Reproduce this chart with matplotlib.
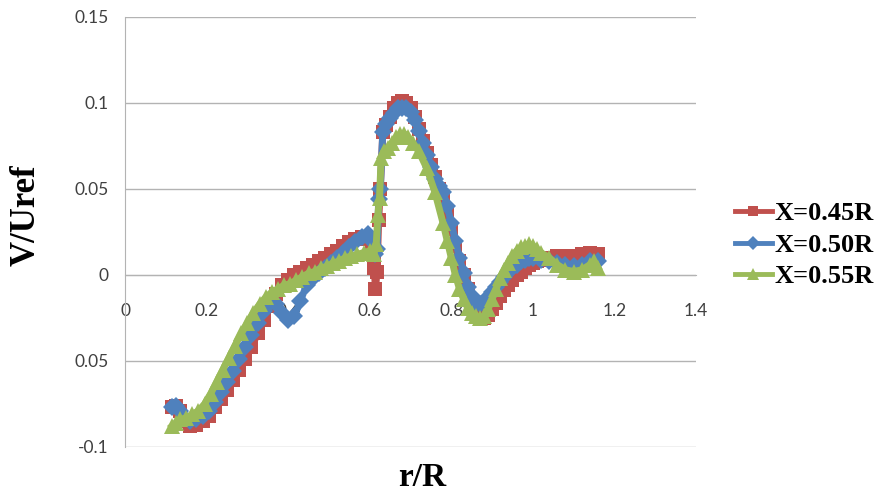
import matplotlib

matplotlib.use("Agg")
import matplotlib.pyplot as plt
from matplotlib.lines import Line2D

# r/R positions and V/Uref values
r_045 = [0.115, 0.125, 0.135, 0.145, 0.16, 0.175, 0.19, 0.205, 0.22, 0.235,
         0.25, 0.265, 0.28, 0.295, 0.31, 0.325, 0.34, 0.355, 0.37, 0.385,
         0.40, 0.415, 0.43, 0.445, 0.46, 0.475, 0.49, 0.505, 0.52, 0.535,
         0.55, 0.565, 0.58, 0.595, 0.605, 0.611, 0.614, 0.618, 0.622, 0.626,
         0.632, 0.64, 0.65, 0.66, 0.67, 0.68, 0.69, 0.70, 0.71, 0.72,
         0.73, 0.74, 0.75, 0.76, 0.77, 0.78, 0.79, 0.80, 0.81, 0.82,
         0.83, 0.84, 0.85, 0.86, 0.87, 0.88, 0.89, 0.90, 0.91, 0.92,
         0.93, 0.94, 0.95, 0.96, 0.97, 0.98, 0.99, 1.00, 1.01, 1.02,
         1.04, 1.06, 1.08, 1.10, 1.12, 1.14, 1.16]
v_045 = [-0.077, -0.076, -0.079, -0.085, -0.088, -0.087, -0.085, -0.082, -0.077, -0.072,
         -0.067, -0.061, -0.055, -0.049, -0.042, -0.034, -0.026, -0.018, -0.011, -0.006,
         -0.003, 0.000, 0.002, 0.004, 0.006, 0.008, 0.010, 0.012, 0.014, 0.017,
         0.019, 0.021, 0.022, 0.021, 0.016, 0.004, -0.008, 0.002, 0.032, 0.050,
         0.083, 0.087, 0.092, 0.097, 0.100, 0.101, 0.100, 0.097, 0.092, 0.085,
         0.078, 0.071, 0.064, 0.057, 0.050, 0.043, 0.036, 0.027, 0.017, 0.008,
         0.000, -0.008, -0.015, -0.020, -0.024, -0.025, -0.023, -0.020, -0.016, -0.012,
         -0.009, -0.006, -0.003, 0.000, 0.002, 0.004, 0.006, 0.007, 0.008, 0.009,
         0.010, 0.011, 0.011, 0.011, 0.012, 0.013, 0.012]

r_050 = [0.115, 0.125, 0.135, 0.145, 0.16, 0.175, 0.19, 0.205, 0.22, 0.235,
         0.25, 0.265, 0.28, 0.295, 0.31, 0.325, 0.34, 0.355, 0.37, 0.385,
         0.40, 0.415, 0.43, 0.445, 0.46, 0.475, 0.49, 0.505, 0.52, 0.535,
         0.55, 0.565, 0.58, 0.595, 0.605, 0.612, 0.618, 0.622, 0.626, 0.632,
         0.64, 0.65, 0.66, 0.67, 0.68, 0.69, 0.70, 0.71, 0.72, 0.73,
         0.74, 0.75, 0.76, 0.77, 0.78, 0.79, 0.80, 0.81, 0.82, 0.83,
         0.84, 0.85, 0.86, 0.87, 0.88, 0.89, 0.90, 0.91, 0.92, 0.93,
         0.94, 0.95, 0.96, 0.97, 0.98, 0.99, 1.00, 1.02, 1.04, 1.06,
         1.08, 1.10, 1.12, 1.14, 1.16]
v_050 = [-0.077, -0.076, -0.079, -0.083, -0.085, -0.084, -0.082, -0.079, -0.074, -0.068,
         -0.062, -0.056, -0.049, -0.042, -0.035, -0.028, -0.021, -0.016, -0.017, -0.022,
         -0.026, -0.024, -0.015, -0.006, -0.002, 0.001, 0.004, 0.007, 0.010, 0.013,
         0.016, 0.019, 0.022, 0.024, 0.020, 0.012, 0.015, 0.044, 0.050, 0.083,
         0.088, 0.091, 0.094, 0.097, 0.097, 0.097, 0.095, 0.090, 0.084, 0.077,
         0.070, 0.063, 0.056, 0.052, 0.048, 0.040, 0.030, 0.020, 0.010, 0.001,
         -0.007, -0.012, -0.016, -0.017, -0.016, -0.013, -0.010, -0.007, -0.004, -0.001,
         0.002, 0.004, 0.006, 0.008, 0.009, 0.010, 0.010, 0.009, 0.008, 0.007,
         0.006, 0.005, 0.006, 0.008, 0.008]

r_055 = [0.115, 0.125, 0.135, 0.15, 0.165, 0.18, 0.195, 0.21, 0.225, 0.24,
         0.255, 0.27, 0.285, 0.30, 0.315, 0.33, 0.345, 0.36, 0.375, 0.39,
         0.405, 0.42, 0.435, 0.45, 0.465, 0.48, 0.495, 0.51, 0.525, 0.54,
         0.555, 0.57, 0.585, 0.60, 0.61, 0.616, 0.62, 0.624, 0.628, 0.635,
         0.645, 0.655, 0.665, 0.675, 0.685, 0.695, 0.705, 0.72, 0.74, 0.76,
         0.78, 0.79, 0.80, 0.81, 0.82, 0.83, 0.84, 0.85, 0.86, 0.87,
         0.88, 0.89, 0.90, 0.91, 0.92, 0.93, 0.94, 0.95, 0.96, 0.97,
         0.98, 0.99, 1.00, 1.01, 1.02, 1.04, 1.06, 1.08, 1.10, 1.12,
         1.14, 1.15, 1.16]
v_055 = [-0.088, -0.086, -0.084, -0.083, -0.081, -0.079, -0.075, -0.069, -0.062, -0.055,
         -0.048, -0.041, -0.034, -0.028, -0.022, -0.017, -0.013, -0.010, -0.008, -0.006,
         -0.005, -0.003, -0.001, 0.001, 0.002, 0.004, 0.005, 0.007, 0.008, 0.010,
         0.011, 0.012, 0.013, 0.014, 0.012, 0.018, 0.035, 0.045, 0.068, 0.072,
         0.074, 0.077, 0.080, 0.082, 0.082, 0.080, 0.077, 0.072, 0.062, 0.048,
         0.030, 0.020, 0.010, 0.000, -0.008, -0.014, -0.019, -0.022, -0.024, -0.025,
         -0.024, -0.020, -0.014, -0.008, -0.002, 0.003, 0.007, 0.011, 0.014, 0.016,
         0.017, 0.018, 0.017, 0.015, 0.013, 0.010, 0.006, 0.003, 0.002, 0.003,
         0.006, 0.008, 0.004]

series = [
    ("X=0.45R", r_045, v_045, "#C0504D", "s", 10.0),
    ("X=0.50R", r_050, v_050, "#4F81BD", "D", 9.5),
    ("X=0.55R", r_055, v_055, "#9BBB59", "^", 12.0),
]

y_ticks = [-0.1, -0.05, 0, 0.05, 0.1, 0.15]
y_tick_labels = ["-0.1", "0.05", "0", "0.05", "0.1", "0.15"]
x_ticks = [0, 0.2, 0.4, 0.6, 0.8, 1.0, 1.2, 1.4]
x_tick_labels = ["0", "0.2", "0.4", "0.6", "0.8", "1", "1.2", "1.4"]

fig = plt.figure(figsize=(8.83, 4.95), dpi=100)
ax = fig.add_axes([0.1416, 0.097, 0.6466, 0.8687])

for label, r, v, color, marker, ms in series:
    ax.plot(r, v, color=color, marker=marker, markersize=ms, linewidth=5,
            markeredgewidth=0, label=label, zorder=3)

ax.set_xlim(0, 1.4)
ax.set_ylim(-0.1, 0.15)
ax.set_yticks(y_ticks)
ax.set_yticklabels(y_tick_labels)
ax.set_xticks(x_ticks)
ax.set_xticklabels(x_tick_labels)
ax.grid(True, axis="y", color="#B3B3B3", linewidth=1.0)
ax.set_axisbelow(True)

for side in ("top", "right"):
    ax.spines[side].set_visible(False)
ax.spines["left"].set_color("#B3B3B3")
ax.spines["bottom"].set_position(("data", 0))
ax.spines["bottom"].set_color("#B3B3B3")

ax.tick_params(axis="both", length=0, labelsize=12.5, labelcolor="#404040",
               labelfontfamily="Lato")
ax.tick_params(axis="y", pad=12)
ax.tick_params(axis="x", pad=20)

fig.text(0.03, 1 - 215 / 495, "V/Uref", rotation=90, ha="center", va="center",
         family="Liberation Serif", fontweight="bold", fontsize=25)
fig.text(422 / 883, 1 - 478 / 495, "r/R", ha="center", va="center",
         family="Liberation Serif", fontweight="bold", fontsize=24)

handles = [Line2D([], [], color=c, marker=m, markersize=ms * 0.75, linewidth=3.5,
                  markeredgewidth=0) for _, _, _, c, m, ms in series]
labels = [s[0] for s in series]
fig.legend(handles, labels, loc="center left", bbox_to_anchor=(0.832, 0.505),
           frameon=False, borderpad=0, borderaxespad=0,
           handlelength=1.4, handletextpad=0.12, labelspacing=0.3,
           prop={"family": "Liberation Serif", "weight": "bold", "size": 19})

fig.savefig("out.png", dpi=100)
